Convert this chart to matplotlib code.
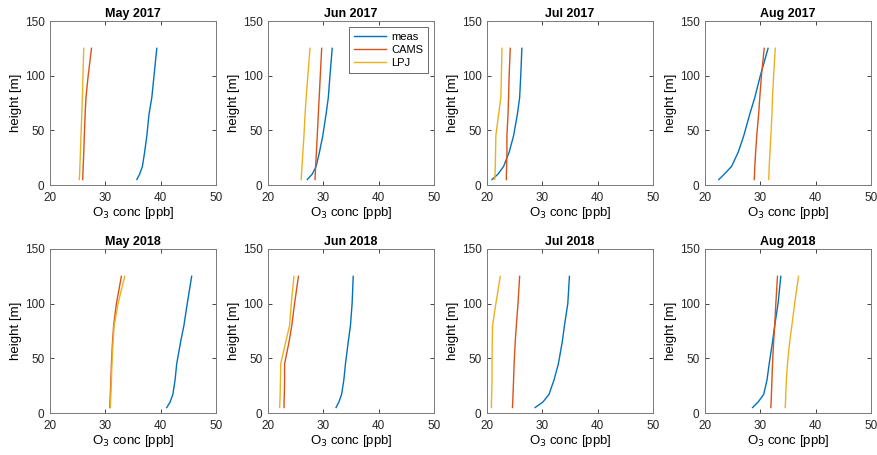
import numpy as np
import matplotlib
matplotlib.use("Agg")
import matplotlib.pyplot as plt

plt.rcParams["font.family"] = ["Liberation Sans", "DejaVu Sans"]

heights = [5, 10, 17, 30, 45, 65, 80, 100, 125]
titles = ["May 2017", "Jun 2017", "Jul 2017", "Aug 2017",
          "May 2018", "Jun 2018", "Jul 2018", "Aug 2018"]

meas = [
    [35.7, 36.2, 36.7, 37.1, 37.5, 37.9, 38.4, 38.8, 39.3],
    [27.1, 28.0, 28.7, 29.3, 29.9, 30.5, 30.9, 31.2, 31.6],
    [20.9, 22.0, 23.0, 24.0, 24.8, 25.5, 25.9, 26.1, 26.3],
    [22.5, 23.5, 24.8, 26.0, 27.0, 28.1, 29.0, 30.0, 31.4],
    [41.1, 41.7, 42.2, 42.6, 42.9, 43.6, 44.2, 44.8, 45.6],
    [32.3, 32.8, 33.3, 33.7, 34.0, 34.5, 34.9, 35.2, 35.4],
    [28.7, 30.1, 31.2, 32.1, 32.9, 33.6, 34.0, 34.6, 34.9],
    [28.6, 29.6, 30.6, 31.2, 31.6, 32.2, 32.6, 33.2, 33.7],
]
cams = [
    [25.9, 25.95, 26.0, 26.1, 26.2, 26.35, 26.5, 26.9, 27.5],
    [28.5, 28.55, 28.6, 28.75, 28.9, 29.1, 29.25, 29.45, 29.7],
    [23.5, 23.5, 23.55, 23.6, 23.6, 23.8, 23.9, 24.0, 24.2],
    [28.9, 28.95, 29.0, 29.15, 29.35, 29.7, 29.9, 30.2, 30.7],
    [30.8, 30.85, 30.9, 31.0, 31.1, 31.3, 31.5, 32.0, 32.9],
    [22.9, 22.9, 22.95, 23.0, 23.0, 23.8, 24.3, 24.8, 25.5],
    [24.6, 24.65, 24.7, 24.8, 24.9, 25.1, 25.3, 25.6, 25.9],
    [31.9, 31.95, 32.0, 32.1, 32.2, 32.4, 32.6, 32.8, 33.1],
]
lpj = [
    [25.3, 25.35, 25.4, 25.5, 25.6, 25.75, 25.85, 25.95, 26.1],
    [26.0, 26.05, 26.15, 26.3, 26.5, 26.7, 26.9, 27.2, 27.6],
    [21.4, 21.45, 21.5, 21.55, 21.6, 22.1, 22.5, 22.6, 22.7],
    [31.5, 31.55, 31.6, 31.75, 31.9, 32.1, 32.2, 32.4, 32.7],
    [30.9, 30.95, 31.0, 31.1, 31.2, 31.4, 31.6, 32.3, 33.5],
    [22.1, 22.15, 22.2, 22.25, 22.3, 23.2, 23.9, 24.2, 24.7],
    [20.8, 20.8, 20.85, 20.9, 20.9, 20.95, 21.0, 21.6, 22.4],
    [34.5, 34.55, 34.6, 34.7, 34.9, 35.3, 35.7, 36.2, 36.9],
]

colors = ["#0072BD", "#D95319", "#EDB120"]

W, H = 878, 455
fig = plt.figure(figsize=(W / 100, H / 100), dpi=100)

lefts = [50, 268, 487, 705]
tops = [21, 249]
aw, ah = 166, 164

for i in range(8):
    r, c = divmod(i, 4)
    ax = fig.add_axes([lefts[c] / W, 1 - (tops[r] + ah) / H, aw / W, ah / H])
    ax.plot(meas[i], heights, color=colors[0], lw=1.0, label="meas")
    ax.plot(cams[i], heights, color=colors[1], lw=1.0, label="CAMS")
    ax.plot(lpj[i], heights, color=colors[2], lw=1.0, label="LPJ")
    ax.set_xlim(20, 50)
    ax.set_ylim(0, 150)
    ax.set_xticks([20, 30, 40, 50])
    ax.set_yticks([0, 50, 100, 150])
    ax.tick_params(direction="in", length=3, width=0.6, top=True, right=True,
                   labelsize=8.5, colors="#262626")
    ax.tick_params(axis="x", pad=5)
    ax.tick_params(axis="y", pad=4)
    for s in ax.spines.values():
        s.set_color("#7a7a7a")
        s.set_linewidth(0.7)
    ax.set_title(titles[i], fontsize=9, fontweight="bold", pad=3)
    ax.set_xlabel("O$_3$ conc [ppb]", fontsize=9.5, labelpad=1)
    ax.set_ylabel("height [m]", fontsize=9.5, labelpad=2)
    if i == 1:
        leg = ax.legend(loc="upper right", fontsize=8, frameon=True,
                        fancybox=False, handlelength=2.9, handletextpad=0.4,
                        borderpad=0.45, labelspacing=0.25, borderaxespad=0.55)
        leg.get_frame().set_edgecolor("#262626")
        leg.get_frame().set_linewidth(0.6)

fig.savefig("out.png", dpi=100)
